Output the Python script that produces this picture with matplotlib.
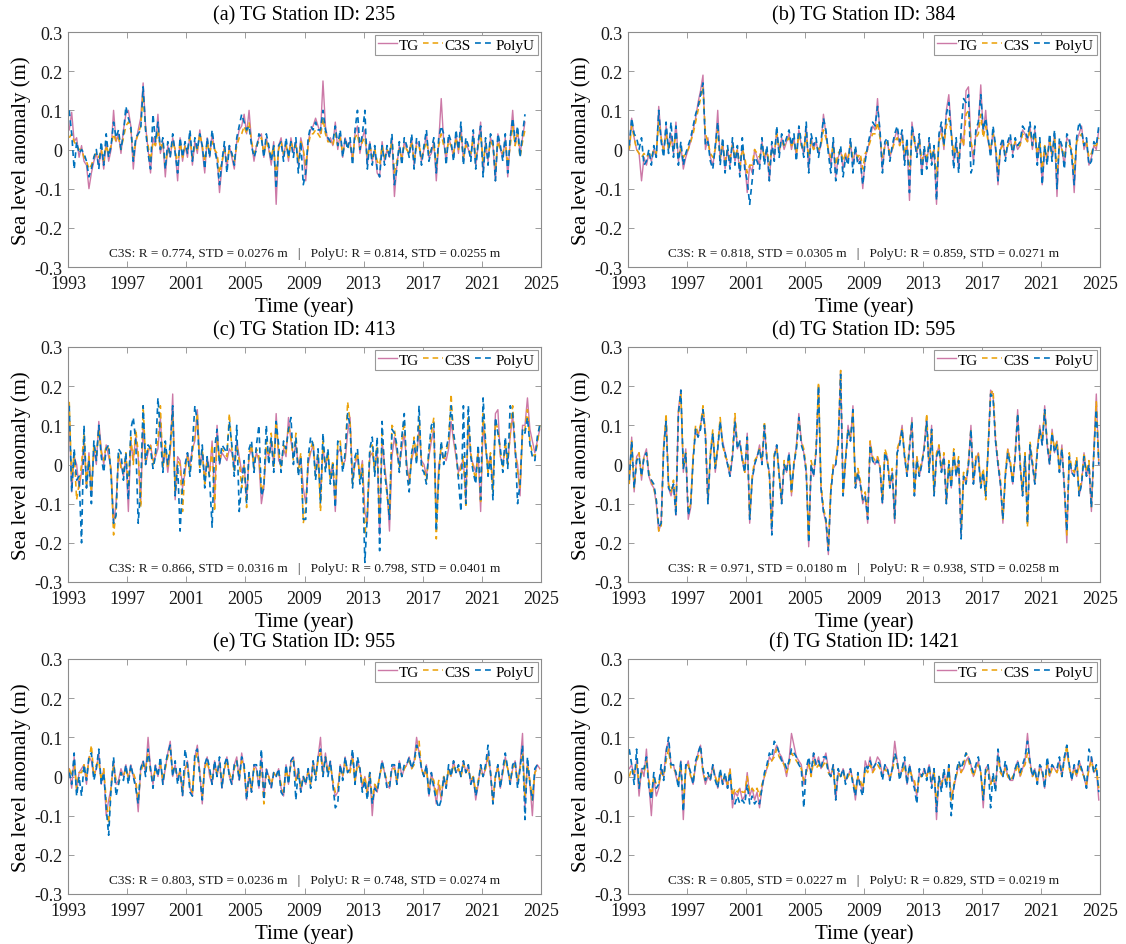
import numpy as np
import matplotlib.pyplot as plt

plt.rcParams['font.family'] = ['Liberation Serif', 'DejaVu Serif']

# panel info
panel_tags = ['(a)', '(b)', '(c)', '(d)', '(e)', '(f)']
station_ids = [235, 384, 413, 595, 955, 1421]
c3s_r = [0.774, 0.818, 0.866, 0.971, 0.803, 0.805]
c3s_std = [0.0276, 0.0305, 0.0316, 0.0180, 0.0236, 0.0227]
polyu_r = [0.814, 0.859, 0.798, 0.938, 0.748, 0.829]
polyu_std = [0.0255, 0.0271, 0.0401, 0.0258, 0.0274, 0.0219]

year_ticks = [1993, 1997, 2001, 2005, 2009, 2013, 2017, 2021, 2025]
sla_ticks = [-0.3, -0.2, -0.1, 0, 0.1, 0.2, 0.3]
sla_tick_labels = ['-0.3', '-0.2', '-0.1', '0', '0.1', '0.2', '0.3']

# sea level anomalies in mm, bimonthly from Jan 1993 (one row = one year)
tg_235 = [
    50, 95, 20, 30, -20, 10,  -30, -40, -100, -60, -30, -10,  -40, 0, -50, 20, -30, 0,
    100, 20, 40, -10, 50, 90,  100, 60, -50, 20, 50, 80,  170, 60, 0, -60, 30, 10,
    90, -10, 20, -70, 10, -20,  30, 0, -80, 30, -30, 10,  -20, 40, -40, 20, -10, 50,
    0, -60, 30, -20, 40, 0,  -20, -110, -40, 10, -50, 10,  -20, -50, 20, 50, 60, 90,
    40, 100, 20, -30, 10, 30,  40, -20, 30, 0, -40, 20,  -140, 10, 30, -20, 20, -30,
    30, -10, 20, -40, 30, 0,  -80, 20, 50, 60, 80, 60,  40, 175, 60, 20, 30, 10,
    70, 0, 40, -20, 30, 10,  20, -30, 40, 60, -10, 30,  50, -40, 20, -30, 0, -60,
    -70, 20, -30, 0, -20, 30,  -120, -40, 10, -30, 20, 0,  -10, 30, -40, 20, 10, -30,
    0, 40, -20, -10, 20, -80,  20, 130, 20, -30, 30, 10,  -20, 40, -10, 60, -30, 20,
    0, -20, 40, -40, 10, 70,  -60, 20, -30, 30, 10, -80,  40, 0, -20, 30, -70, 20,
    100, 10, 50, -10, 30, 70,
]
c3s_235 = [
    30, 40, 20, 10, 0, 0,  -20, -30, -50, -40, -20, -10,  -20, 0, -30, 10, -10, 10,
    40, 20, 30, 0, 30, 60,  70, 50, -20, 20, 40, 60,  140, 50, 10, -30, 20, 10,
    50, 0, 20, -40, 0, -10,  20, 0, -40, 20, -20, 10,  0, 30, -20, 10, 0, 40,
    10, -30, 20, -10, 20, 0,  -10, -60, -30, 0, -30, 0,  -10, -30, 10, 30, 40, 60,
    40, 70, 20, -10, 10, 20,  30, -10, 20, 0, -20, 10,  -70, 0, 20, -10, 10, -20,
    20, 0, 10, -30, 20, 0,  -40, 10, 40, 40, 50, 40,  30, 80, 40, 20, 20, 10,
    40, 10, 30, -10, 20, 10,  10, -20, 30, 40, 0, 20,  30, -20, 10, -20, 0, -30,
    -40, 10, -20, 0, -10, 20,  -60, -30, 0, -20, 10, 0,  -10, 20, -30, 10, 10, -20,
    0, 20, -10, 0, 10, -40,  10, 40, 10, -10, 20, 10,  -10, 30, 0, 40, -20, 10,
    0, -10, 30, -20, 10, 40,  -30, 10, -20, 20, 10, -50,  20, 0, -10, 20, -40, 10,
    60, 10, 40, -20, 20, 50,
]
polyu_235 = [
    100, 40, -50, 20, -10, 0,  -10, -30, -70, -50, -20, 0,  -50, 20, -40, 40, -20, 10,
    70, 30, 50, 0, 40, 110,  80, 60, -30, 30, 40, 50,  160, 50, -10, -50, 90, 20,
    70, 0, 30, -50, 20, -20,  40, -10, -60, 30, -20, 20,  -10, 50, -30, 30, 0, 40,
    10, -50, 30, -20, 50, 0,  -30, -90, -30, 20, -60, 10,  -10, -40, 30, 60, 90, 70,
    50, 60, 10, -20, 0, 40,  30, -20, 40, 10, -30, 10,  -100, 10, 20, -30, 30, -20,
    20, -20, 30, -60, 20, -90,  -60, 30, 60, 50, 70, 50,  50, 100, 50, 30, 20, 20,
    60, 10, 50, -20, 30, 0,  30, -40, 50, 100, 0, 40,  100, -50, 20, -40, 10, -50,
    -70, 10, -40, 10, -20, 40,  -90, -50, 20, -40, 30, 10,  -20, 40, -50, 30, 20, -40,
    10, 50, -30, 0, 30, -60,  30, 60, 40, -40, 40, 20,  -30, 50, 0, 70, -40, 30,
    10, -30, 50, -50, 20, 60,  -70, 30, -40, 40, 20, -80,  40, 10, -30, 40, -60, 30,
    80, 20, 60, -20, 40, 90,
]

tg_384 = [
    0, 80, 30, 0, -10, -80,  -20, -40, -10, -30, 0, -20,  110, 30, -10, 60, 0, 40,
    -10, 70, -30, 10, -50, -20,  0, 20, 50, 80, 120, 150,  190, 0, 30, -20, -40, 0,
    100, -30, 20, -50, 0, -40,  20, -30, 0, -60, 10, -30,  -110, -40, -60, 0, -20, -40,
    20, -30, 0, -80, 10, -20,  50, -10, 30, 0, 20, 40,  0, 30, -20, 50, 10, -10,
    60, -50, 30, 0, 20, -10,  10, 90, 40, 0, -40, 20,  -70, -20, 0, -50, -10, -30,
    20, -40, 0, -30, -20, -100,  -20, 0, 30, 60, 50, 130,  40, -50, 10, 20, -20, 0,
    30, 50, 10, 40, -30, 20,  -130, 70, 20, -10, 30, -60,  0, -40, 20, -30, 0, -140,
    30, 60, 0, 100, 140, 50,  -30, 20, -50, 40, 10, 150,  160, 20, -30, 40, 60, 165,
    40, 100, 20, -10, 50, 0,  -90, 0, 20, -20, 10, 30,  -10, 20, 0, 10, 50, 40,
    20, 60, 0, 50, -30, 20,  -90, 0, -30, 30, -20, 40,  -120, 20, 0, -40, 30, 20,
    -10, -110, 20, 40, 60, 0,  20, -40, -20, 10, 0, 50,
]
c3s_384 = [
    0, 60, 30, 0, -10, -20,  -10, -20, -10, -20, 0, -10,  70, 30, 0, 40, 0, 20,
    0, 40, -20, 0, -20, -10,  0, 20, 40, 70, 100, 130,  160, 40, 20, -10, -20, 0,
    50, -20, 10, -30, 0, -20,  10, -20, 0, -40, 0, -20,  -60, -40, -40, 0, -10, -20,
    10, -20, 0, -40, 0, -10,  40, 0, 20, 10, 20, 30,  10, 20, -10, 40, 10, 0,
    40, -20, 20, 0, 10, 0,  10, 50, 30, 0, -20, 10,  -40, -10, 0, -30, -10, -20,
    10, -20, 0, -20, -10, -50,  -10, 0, 20, 40, 40, 70,  30, -20, 10, 20, -10, 0,
    20, 30, 10, 30, -10, 10,  -60, 40, 20, 0, 20, -30,  0, -20, 10, -20, 0, -70,
    20, 40, 10, 60, 80, 40,  -10, 10, -20, 30, 10, 90,  100, 20, -10, 30, 40, 90,
    30, 60, 20, 0, 40, 10,  -50, 0, 10, -10, 10, 20,  0, 20, 10, 10, 40, 30,
    20, 50, 10, 40, -10, 20,  -50, 10, -20, 20, -10, 30,  -60, 10, 0, -20, 20, 10,
    0, -60, 20, 30, 40, 10,  20, -20, -10, 10, 10, 30,
]
polyu_384 = [
    10, 80, 40, 30, 0, 30,  -40, -30, 0, -40, 10, -20,  100, 20, -20, 70, -10, 70,
    -20, 60, -40, 20, -40, -10,  10, 30, 60, 90, 110, 140,  170, 10, 20, -30, -50, 10,
    70, -40, 30, -60, 10, -50,  30, -40, 10, -70, 30, -50,  -80, -140, -80, -20, -30, -50,
    30, -40, 10, -80, 20, -30,  60, -20, 40, 10, 30, 50,  10, 40, -30, 60, 20, -20,
    70, -60, 40, 10, 30, -20,  20, 80, 50, -10, -60, 30,  -80, -30, 10, -70, -20, -40,
    30, -60, 10, -40, -30, -90,  -30, 10, 40, 70, 60, 110,  50, -60, 20, 30, -30, 10,
    40, 60, 20, 50, -40, 30,  -110, 60, 30, -20, 40, -70,  10, -50, 30, -40, 10, -130,
    40, 70, 10, 90, 120, 40,  -50, 30, -60, 50, 130, 120,  140, -60, -40, 50, 70, 140,
    50, 80, 30, -20, 60, 10,  -80, 10, 30, -30, 20, 40,  -20, 30, 10, 20, 60, 50,
    30, 70, 10, 60, -40, 30,  -90, 10, -40, 40, -30, 50,  -100, 30, 10, -50, 40, 30,
    -20, -90, 30, 70, 50, 10,  30, -40, -30, 20, 10, 60,
]

tg_413 = [
    120, -70, 20, 0, -60, -20,  60, -60, 30, -80, 40, 0,  110, 40, 0, 50, 20, -10,
    -150, -100, 20, 0, -30, 20,  -120, 60, 10, 70, 20, -100,  100, 0, 30, 50, 10, 20,
    40, 120, 0, 40, -20, 30,  180, -90, 20, 10, -60, -20,  30, 0, 40, 60, 140, 0,
    30, -40, 20, -20, 60, -100,  100, 0, 30, 20, 10, 40,  30, 0, 60, 20, -20, 0,
    -90, 20, 40, 0, 30, 10,  -100, -60, 40, 20, 60, 0,  130, 10, 0, 40, 20, 120,
    60, 20, 50, 0, 20, -60,  -100, 0, 30, 50, -20, 20,  -80, 40, 0, 20, -30, 0,
    -120, 30, 40, 0, 10, 80,  120, -40, 0, 20, -30, 10,  -120, -150, 20, 30, -10, 40,
    -180, 60, 0, -60, -170, 20,  70, 30, 0, 40, 80, 0,  -40, 10, 40, 20, 90, 10,
    0, -30, 20, 60, 90, -150,  0, 30, 20, 10, 40, 110,  60, 20, -20, 0, 10, -90,
    110, 20, 0, -20, 30, -120,  100, 40, 0, 20, -60, 130,  140, 20, 0, 40, 10, 70,
    130, 30, 0, -80, 100, 100,  170, 90, 60, 30, 60, 90,
]
c3s_413 = [
    160, -40, 30, -90, -50, 0,  80, -50, 20, -70, 50, 20,  90, 30, 10, 50, 40, -20,
    -180, -120, 30, -10, -20, 30,  -60, 70, 0, 90, 30, -110,  150, 10, 40, 50, 0, 30,
    60, 150, -10, 50, -10, 40,  130, -70, 10, 0, -120, -10,  20, -20, 30, 80, 130, -10,
    40, -50, 10, -30, 50, -120,  70, 10, 40, 30, 20, 130,  40, -20, 50, 10, -60, 0,
    -110, 30, 50, -10, 40, 20,  -70, -50, 60, 10, 80, -10,  110, 30, -10, 50, 30, 100,
    70, 10, 80, -20, 30, -150,  -110, 10, 40, 60, -30, 30,  -120, 60, -10, 30, -40, 10,
    -90, 50, 60, -10, 20, 160,  110, -50, 10, 30, -40, 0,  -180, -120, 30, 50, -20, 60,
    -150, 80, -10, -80, -130, 100,  90, 40, -10, 60, 110, -10,  -50, 20, 70, 10, 120, 0,
    -10, -40, 30, 80, 120, -190,  -20, 50, 10, 30, 60, 180,  70, 30, -30, -10, 20, -110,
    120, 30, -10, -40, 40, -100,  130, 50, -20, 30, -70, 110,  90, 30, -10, 60, 0, 80,
    150, 40, -20, -60, 80, 90,  140, 60, 30, 20, 50, 100,
]
polyu_413 = [
    150, -70, 40, -40, -30, -200,  100, -60, 10, -100, 60, 10,  100, 20, -20, 40, 50, -30,
    -150, -130, 40, 30, -40, 30,  -90, 90, 120, 60, -150, -60,  150, 0, 50, 40, -10, 20,
    170, 80, -20, 60, 0, 50,  150, -80, 0, -170, -50, 0,  30, -30, 50, 150, 110, -20,
    50, -60, 20, -40, -160, 40,  90, 0, 50, 40, 30, 110,  50, -30, 100, -120, -50, 10,
    -100, 40, 60, -20, 50, 100,  -80, -60, 100, 0, 70, -20,  110, 50, -20, 60, 40, 90,
    120, 0, 70, -30, 20, -140,  -140, 20, 70, 50, -40, 40,  -100, 80, -20, 40, -50, 0,
    -110, 60, 50, -20, 30, 130,  100, -60, 20, 40, -50, -10,  -250, -130, 40, 70, -30, 70,
    -220, 110, -20, -70, -140, 90,  80, 50, -20, 70, 130, -20,  -70, 30, 60, 0, 150, -10,
    -20, -50, 40, 100, 110, -170,  -30, 60, 0, 40, 70, 150,  80, 40, -40, -120, 150, -100,
    150, 20, -20, -50, 50, -90,  170, 60, -30, 20, -90, 120,  80, 40, -20, 70, -10, 150,
    130, 50, -100, -50, 90, 80,  120, 50, 20, 10, 70, 100,
]

tg_595 = [
    -40, 70, -70, 20, 30, -40,  20, 40, -30, -50, -60, -100,  -170, -150, 50, 120, -60, -80,
    -50, -130, 140, 190, -20, 40,  -140, -110, 20, 90, 70, 100,  140, 80, -100, 20, 80, -20,
    40, 110, 60, 30, 0, -30,  20, 120, 40, 60, 10, -20,  80, -150, -40, 0, 20, 50,
    0, 100, 10, -20, -170, 20,  50, -20, -100, 0, -20, 30,  -80, 0, 50, 130, 60, 30,
    -20, -210, 0, -30, 30, 200,  -60, -120, -150, -230, -70, -10,  0, 50, 240, -80, 10, 100,
    60, 150, -60, -20, -50, -100,  -80, -150, 60, 10, 0, 20,  -10, -100, 30, 20, -60, -20,
    -150, 30, 60, 100, 20, -30,  40, 120, -80, 20, -30, 0,  50, 120, -20, 100, -80, 20,
    50, -20, 20, -100, 0, -60,  30, -30, 10, -180, -30, -50,  0, 100, -50, 10, 30, -60,
    -20, -80, 40, 190, 180, 60,  0, -50, -150, -30, 40, 0,  -50, 20, 140, 0, -80, 30,
    -150, 50, 0, -50, 40, 100,  50, 150, 50, 0, 90, 30,  60, -20, 50, -60, -200, 20,
    -20, -30, 10, -80, -50, 30,  -30, 0, -120, 40, 180, 0,
]
c3s_595 = [
    -50, 60, -60, 10, 30, -30,  20, 30, -20, -40, -60, -90,  -170, -160, 40, 130, -50, -70,
    -40, -110, 130, 180, -10, 30,  -120, -100, 20, 100, 80, 100,  150, 80, -90, 30, 90, -10,
    50, 120, 50, 20, 10, -20,  30, 130, 50, 50, 20, -20,  70, -130, -30, 10, 20, 40,
    10, 110, 20, -30, -160, 30,  40, -30, -90, 10, -10, 20,  -70, 10, 40, 120, 60, 40,
    -10, -190, 10, -20, 40, 210,  -50, -110, -140, -210, -60, 0,  10, 60, 240, -70, 20, 90,
    70, 130, -50, -10, -40, -90,  -70, -130, 60, 20, 10, 20,  0, -90, 40, 20, -50, -10,
    -140, 40, 60, 90, 30, -20,  50, 110, -70, 20, -20, 10,  40, 130, -10, 90, -70, 30,
    50, -10, 30, -90, 10, -50,  40, -20, 20, -170, -20, -40,  10, 90, -40, 20, 30, -50,
    -10, -90, 50, 180, 190, 70,  10, -40, -140, -20, 40, 10,  -40, 30, 130, 10, -70, 30,
    -160, 60, 10, -40, 40, 90,  60, 140, 60, 10, 80, 40,  60, -10, 40, -50, -180, 30,
    -10, -20, 20, -70, -40, 30,  -20, 10, -110, 30, 160, 10,
]
polyu_595 = [
    -40, 60, -60, 10, 20, -30,  20, 30, -30, -40, -50, -90,  -160, -150, 40, 110, -60, -70,
    -50, -130, 130, 190, -10, 30,  -130, -100, 10, 90, 70, 90,  140, 70, -100, 20, 80, -10,
    40, 110, 50, 30, 0, -30,  20, 110, 40, 60, 10, -20,  70, -140, -40, 0, 20, 40,
    0, 100, 10, -20, -180, 20,  50, -30, -100, 0, -20, 30,  -70, 0, 40, 120, 50, 30,
    -20, -200, 0, -30, 30, 200,  -60, -120, -140, -220, -70, -10,  0, 50, 230, -80, 10, 90,
    60, 140, -60, -20, -50, -90,  -80, -140, 50, 10, 0, 10,  -10, -100, 30, 10, -60, -20,
    -140, 30, 50, 90, 20, -30,  40, 110, -80, 10, -30, 0,  40, 110, -20, 90, -80, 20,
    40, -20, 20, -100, 0, -60,  30, -30, 10, -190, -30, -50,  0, 90, -50, 10, 20, -60,
    -20, -80, 40, 180, 170, 60,  0, -50, -140, -30, 30, 0,  -50, 20, 130, 0, -80, 20,
    -150, 50, 0, -50, 30, 90,  50, 140, 50, 0, 80, 30,  50, -20, 40, -60, -170, 20,
    -20, -30, 10, -80, -50, 20,  -30, 0, -110, 30, 140, 0,
]

tg_955 = [
    20, -30, 50, -40, 10, 20,  30, -20, 50, 40, 0, 20,  60, -20, 20, -100, -60, -30,
    40, -20, -10, 20, 0, 30,  -10, 30, 0, -20, -90, 20,  40, 10, 100, 20, -20, 30,
    0, 40, -20, 20, 60, 90,  0, 30, -10, 20, -50, 20,  40, -30, -50, 50, 80, 10,
    -70, 30, 50, 0, -20, 40,  0, 40, -30, 20, 50, 0,  -20, 30, 50, -10, 60, 20,
    -60, 10, -40, 30, 20, -30,  50, -50, 20, 0, -30, 10,  0, 20, -30, -50, 30, -20,
    40, 50, -10, 20, -40, 0,  -20, 20, -20, 40, 0, 50,  100, 0, 60, 10, 40, -20,
    -50, -40, 30, 0, 50, 10,  20, 60, -20, 40, 20, -30,  0, -50, 10, -100, -20, -40,
    0, 40, 10, -20, -30, 20,  30, -20, 40, 0, 20, 30,  50, 20, 40, 100, 60, 20,
    0, 30, -50, 10, -20, -70,  -20, -60, 0, -30, 20, 0,  40, 10, 20, 0, 40, 10,
    30, -20, 0, -60, -20, 30,  0, 20, 60, 10, -70, 0,  30, -30, 10, 50, 20, -20,
    20, 40, -20, 30, 110, -80,  40, -20, -100, 10, 30, 20,
]
c3s_955 = [
    20, 0, 40, -30, 10, 10,  30, 0, 40, 80, 0, 30,  40, -10, 20, -60, -120, -20,
    30, -10, -20, 10, 0, 20,  0, 20, 10, -10, -60, 10,  30, 20, 60, 10, -10, 20,
    10, 30, -10, 20, 50, 70,  10, 20, 0, 10, -40, 20,  30, -20, -40, 40, 60, 10,
    -50, 20, 40, 10, -10, 30,  10, 30, -20, 20, 40, 10,  -10, 20, 40, 0, 40, 20,
    -50, 0, -30, 20, 20, -20,  40, -70, 10, 0, -20, 10,  0, 10, -20, -40, 20, -10,
    30, 40, -10, 10, -30, 0,  -10, 10, -20, 30, 0, 40,  60, 10, 50, 10, 30, -10,
    -40, -30, 20, 0, 40, 10,  10, 50, -10, 30, 20, -20,  0, -40, 10, -60, -20, -30,
    0, 30, 10, -10, -20, 20,  20, -10, 30, 0, 20, 30,  40, 20, 30, 70, 90, 20,
    0, 20, -40, 0, -10, -50,  -10, -50, 0, -20, 20, 0,  30, 10, 20, 0, 30, 10,
    20, -10, 0, -40, -10, 20,  0, 20, 50, 10, -60, 0,  20, -20, 10, 40, 20, -10,
    20, 30, -10, 20, 60, -50,  30, -10, -60, 10, 20, 20,
]
polyu_955 = [
    10, -20, 60, -50, 0, -50,  30, -10, 50, 60, -10, 20,  70, -20, 10, -80, -150, -30,
    50, -50, -20, 10, -10, 30,  -20, 30, 0, -30, -70, 20,  40, 0, 70, 20, -30, 30,
    0, 50, -20, 30, 60, 80,  0, 40, -20, 20, -50, 70,  30, -40, -50, 60, 70, 0,
    -60, 30, 50, 20, -20, 40,  0, 50, -30, 30, 50, 0,  -20, 30, 40, -10, 50, 30,
    -60, 10, -40, 30, 30, -30,  70, -60, 20, -10, -30, 10,  0, 20, -40, -50, 30, -20,
    40, 50, -60, 20, -40, 0,  -20, 20, -30, 40, -10, 50,  70, 0, 50, 0, 40, -20,
    -80, -70, 30, -10, 50, 10,  20, 70, -20, 50, 20, -40,  -10, -60, 10, -70, -30, -40,
    0, 40, 10, -30, -30, 30,  30, -20, 40, 0, 30, 30,  50, 20, 40, 80, 60, 20,
    0, 30, -50, 10, -30, -60,  -80, -60, 0, -30, 30, 0,  40, 10, 30, 0, 40, 10,
    30, -20, 0, -50, -20, 30,  0, 30, 80, 10, -70, 0,  30, -30, 20, 60, 20, -20,
    30, 40, -30, 20, 80, -110,  50, -20, -60, 20, 30, 30,
]

tg_1421 = [
    20, 30, 0, 40, -50, 20,  0, 70, -20, -100, 0, -50,  -30, 20, 0, 70, 90, 30,
    30, 0, -20, 40, -110, 20,  40, 0, -20, 30, 60, 80,  10, -20, 0, -10, 30, 0,
    -30, 10, -20, 0, -30, 20,  -80, -40, -50, -30, -60, -50,  10, -50, -30, -60, -40, -80,
    -30, 0, 20, 50, 40, 60,  80, 60, 50, 30, 0, 40,  110, 80, 50, 40, 30, -20,
    10, 40, 0, 60, 30, 50,  20, 40, 60, 20, 0, 30,  -60, 10, 0, 20, -10, 0,
    20, -10, -60, 0, -20, -40,  40, 20, 50, 10, 30, 50,  40, 0, 30, 20, -10, 20,
    90, 40, 0, 20, 40, -20,  30, 0, -20, -50, 10, 0,  20, 0, 30, -20, 20, -110,
    0, -30, 10, -20, 30, -60,  -30, 0, 30, 10, 20, 40,  50, 30, 0, 20, 40, 10,
    -80, 20, 30, -20, 0, -30,  60, 20, 0, 30, 0, -10,  -10, 20, 40, 0, 20, 40,
    110, 40, 0, 20, -20, 30,  10, -30, 40, 0, 30, 20,  10, 40, 0, 50, 60, 30,
    -10, 30, 0, 40, 20, 0,  -30, 20, 50, 10, 20, -60,
]
c3s_1421 = [
    0, 20, 10, 30, -20, 10,  10, 40, -10, -50, 0, -20,  -20, 10, 0, 40, 70, 20,
    20, 10, -10, 30, -70, 20,  30, 0, -10, 30, 50, 70,  10, -10, 0, 0, 20, 0,
    -20, 10, -10, 0, -20, 20,  -50, -30, -40, -30, -40, -40,  0, -40, -30, -40, -30, -50,
    -20, 0, 20, 40, 40, 50,  70, 50, 40, 30, 10, 30,  60, 50, 40, 30, 20, -10,
    10, 30, 0, 40, 20, 30,  20, 30, 40, 10, 0, 20,  -40, 10, 0, 10, -10, 0,
    10, -10, -40, 0, -10, -30,  20, 10, 30, 10, 20, 30,  20, 0, 20, 10, 0, 10,
    50, 30, 0, 10, 30, -10,  20, 0, -10, -40, 0, 0,  10, 0, 20, -10, 10, -70,
    0, -20, 10, -20, 20, -60,  -20, 0, 30, 10, 30, 60,  40, 20, 0, 20, 30, 10,
    -50, 10, 20, -20, 0, -30,  50, 10, 0, 20, 0, -10,  0, 10, 30, 0, 20, 30,
    60, 30, 0, 10, -10, 20,  10, -20, 30, 0, 20, 20,  10, 30, 0, 40, 80, 20,
    0, 20, 0, 30, 10, 0,  -20, 20, 40, 10, 20, -30,
]
polyu_1421 = [
    70, 30, -20, 70, -30, 20,  20, 50, -30, -60, 10, -30,  -20, 30, -10, 60, 100, 30,
    30, 10, -30, 40, -90, 30,  30, 10, -20, 40, 60, 80,  20, -10, 10, -10, 30, -10,
    -30, 20, -20, 10, -30, 10,  -60, -70, -50, -70, -60, -70,  -20, -70, -50, -70, -60, -70,
    -30, 10, 30, 60, 50, 90,  80, 60, 40, 40, 20, 40,  70, 60, 50, 30, 20, -80,
    20, 50, 10, 60, 30, 40,  20, 50, 50, 10, 0, 30,  -60, 20, 0, 20, -20, 10,
    20, -20, -50, 10, -30, -50,  30, 20, 40, 20, 30, 40,  30, -10, 30, 20, -10, 20,
    60, 40, -10, 20, 50, -20,  30, -10, -30, -70, 20, 0,  20, -10, 30, -30, 20, -90,
    0, -40, 20, -30, 30, -100,  -30, 10, 40, 20, 40, 60,  50, 30, 10, 30, 50, 10,
    -60, 20, 30, -80, 10, -40,  70, 20, 0, 40, 10, -10,  -10, 20, 40, 10, 30, 50,
    90, 40, 0, 20, -20, 30,  20, -30, 50, 10, 30, 20,  20, 50, 0, 50, 80, 30,
    -10, 30, 10, 40, 20, 0,  -30, 70, 50, 10, 30, -40,
]

tg_all = [tg_235, tg_384, tg_413, tg_595, tg_955, tg_1421]
c3s_all = [c3s_235, c3s_384, c3s_413, c3s_595, c3s_955, c3s_1421]
polyu_all = [polyu_235, polyu_384, polyu_413, polyu_595, polyu_955, polyu_1421]

tg_color = '#CC79A7'
c3s_color = '#EBA30C'
polyu_color = '#0072BD'
frame_color = '0.55'


def times(vals):
    # bimonthly sample times in decimal years
    return 1993 + (np.arange(len(vals)) + 0.5) / 6.0


def draw_panel(ax, i):
    tg = np.array(tg_all[i]) / 1000.0
    c3s = np.array(c3s_all[i]) / 1000.0
    polyu = np.array(polyu_all[i]) / 1000.0

    ax.plot(times(tg), tg, '-', color=tg_color, lw=1.0, label='TG')
    ax.plot(times(c3s), c3s, '--', color=c3s_color, lw=1.15, dashes=(3.5, 2.5), label='C3S')
    ax.plot(times(polyu), polyu, '--', color=polyu_color, lw=1.2, dashes=(3.5, 2.5), label='PolyU')

    ax.set_xlim(1993, 2025)
    ax.set_ylim(-0.3, 0.3)
    ax.set_xticks(year_ticks)
    ax.set_yticks(sla_ticks)
    ax.set_yticklabels(sla_tick_labels)
    ax.tick_params(direction='in', length=4, width=0.6, color=frame_color,
                   top=True, right=True, labelsize=13, labelcolor='0.1')
    ax.tick_params(axis='x', pad=6)
    ax.tick_params(axis='y', pad=4)
    for sp in ax.spines.values():
        sp.set_color(frame_color)
        sp.set_linewidth(0.8)

    ax.set_title(f'{panel_tags[i]} TG Station ID: {station_ids[i]}', fontsize=14.5, pad=9)
    ax.set_xlabel('Time (year)', fontsize=15, labelpad=2.5)
    ax.set_ylabel('Sea level anomaly (m)', fontsize=15, labelpad=2)

    note = (f'C3S: R = {c3s_r[i]:.3f}, STD = {c3s_std[i]:.4f} m   |   '
            f'PolyU: R = {polyu_r[i]:.3f}, STD = {polyu_std[i]:.4f} m')
    ax.text(0.5, 0.058, note, transform=ax.transAxes, ha='center', va='center',
            fontsize=9.5, color='0.1')

    leg = ax.legend(loc='upper right', ncol=3, fontsize=11, handlelength=1.3,
                    handletextpad=0.1, columnspacing=0.25, borderpad=0.2,
                    borderaxespad=0.2, fancybox=False, framealpha=1, edgecolor='0.6')
    leg.get_frame().set_linewidth(0.8)


fig = plt.figure(figsize=(11.26, 9.45), dpi=100)
W, H = 1126.0, 945.0
col_left = [68, 628]
col_width = [473, 472]
row_bottom = [268, 583, 895]
ax_h = 235

for i in range(6):
    r, c = divmod(i, 2)
    ax = fig.add_axes([col_left[c] / W, 1 - row_bottom[r] / H, col_width[c] / W, ax_h / H])
    draw_panel(ax, i)

fig.savefig('out.png', dpi=100)
